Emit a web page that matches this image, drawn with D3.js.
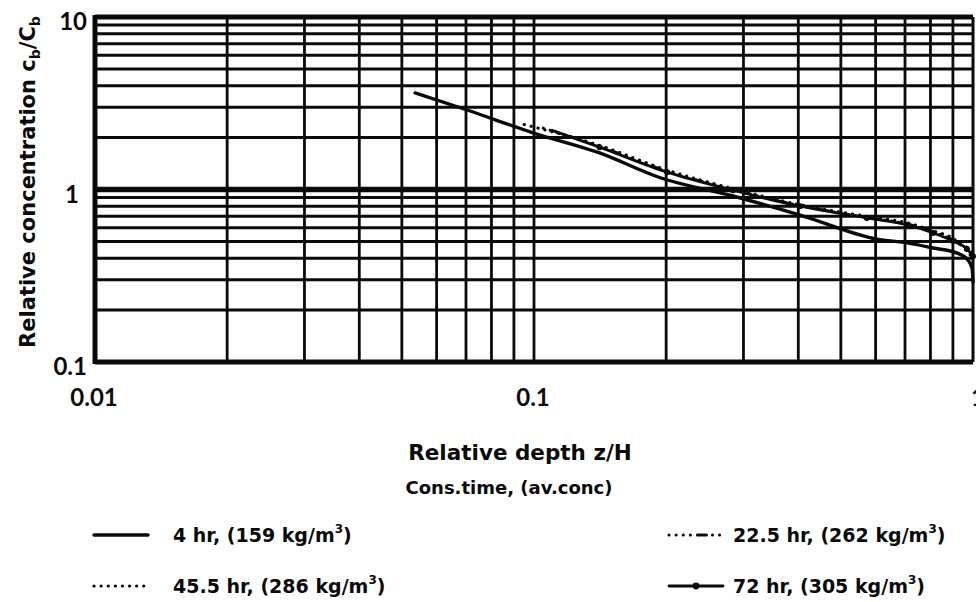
<!DOCTYPE html>
<html>
<head>
<meta charset="utf-8">
<script src="https://cdn.jsdelivr.net/npm/d3@7/dist/d3.min.js"></script>
<style>
  body { margin: 0; background: #fff; }
  svg { display: block; font-family: 'DejaVu Sans', sans-serif; font-weight: 700; }
  .tick-label { font-family: Lato, 'Noto Sans', sans-serif; }
</style>
</head>
<body>
<svg id="chart" width="976" height="602"></svg>
<script>
// relative depth z/H and relative concentration cb/Cb
const depth4 = [0.0536, 0.0704, 0.0995, 0.141, 0.194, 0.284, 0.404, 0.604, 0.708, 0.811, 0.920, 0.969, 0.995, 1.0]
const conc4 = [3.63, 2.89, 2.13, 1.63, 1.17, 0.917, 0.711, 0.516, 0.490, 0.458, 0.428, 0.396, 0.351, 0.291]

const depth22 = [0.105, 0.141, 0.2, 0.284, 0.4, 0.57, 0.71, 0.81, 0.9, 0.97, 1.0]
const conc22 = [2.27, 1.78, 1.28, 1.0, 0.81, 0.69, 0.63, 0.57, 0.51, 0.46, 0.42]

const depth45 = [0.095, 0.141, 0.2, 0.284, 0.4, 0.57, 0.71, 0.81, 0.9, 0.96, 1.0]
const conc45 = [2.38, 1.80, 1.30, 1.01, 0.82, 0.70, 0.64, 0.575, 0.52, 0.45, 0.40]

const depth72 = [0.11, 0.141, 0.201, 0.284, 0.404, 0.573, 0.711, 0.811, 0.9, 0.969, 1.0]
const conc72 = [2.2, 1.76, 1.26, 0.99, 0.80, 0.684, 0.623, 0.56, 0.503, 0.452, 0.41]

const hours = ['4', '22.5', '45.5', '72']
const avgConc = ['159', '262', '286', '305']

const xTicks = [0.01, 0.1, 1]
const xTickLabels = ['0.01', '0.1', '1']
const yTicks = [0.1, 1, 10]
const yTickLabels = ['0.1', '1', '10']

const series = [
  { depth: depth4, conc: conc4, dash: null, width: 3.4, dots: false },
  { depth: depth22, conc: conc22, dash: '0.1,7,0.1,7,0.1,7,0.1,7,9,6', width: 3, dots: false },
  { depth: depth45, conc: conc45, dash: '0.1,7', width: 3.2, dots: false },
  { depth: depth72, conc: conc72, dash: null, width: 2.8, dots: true }
]

const ink = '#0a0a0a'
const svg = d3.select('#chart')

svg.append('rect').attr('width', 976).attr('height', 602).attr('fill', '#fff')

const x = d3.scaleLog().domain([0.01, 1]).range([95, 973])
const y = d3.scaleLog().domain([0.1, 10]).range([362, 17])

// grid
const grid = svg.append('g').attr('stroke', ink)

grid.selectAll('line.v')
  .data(x.ticks().filter((d) => d > 0.01 && d < 1))
  .enter().append('line')
    .attr('class', 'v')
    .attr('x1', (d) => x(d)).attr('x2', (d) => x(d))
    .attr('y1', y(10)).attr('y2', y(0.1))
    .attr('stroke-width', 2.8)

grid.selectAll('line.h')
  .data(y.ticks().filter((d) => d > 0.1 && d < 10))
  .enter().append('line')
    .attr('class', 'h')
    .attr('x1', x(0.01)).attr('x2', x(1))
    .attr('y1', (d) => y(d)).attr('y2', (d) => y(d))
    .attr('stroke-width', (d) => d === 1 ? 5.5 : 3)

// frame
grid.append('line').attr('x1', x(0.01)).attr('x2', x(0.01)).attr('y1', y(10) - 2).attr('y2', y(0.1) + 2).attr('stroke-width', 5)
grid.append('line').attr('x1', x(0.01)).attr('x2', x(1)).attr('y1', y(10)).attr('y2', y(10)).attr('stroke-width', 5)
grid.append('line').attr('x1', x(0.01)).attr('x2', x(1)).attr('y1', y(0.1)).attr('y2', y(0.1)).attr('stroke-width', 5)
grid.append('line').attr('x1', x(1)).attr('x2', x(1)).attr('y1', y(10)).attr('y2', y(0.1)).attr('stroke-width', 3)

// curves
const line = d3.line()
  .x((d) => x(d[0]))
  .y((d) => y(d[1]))
  .curve(d3.curveMonotoneX)

series.forEach((s) => {
  const pts = s.depth.map((d, i) => [d, s.conc[i]])
  svg.append('path')
    .datum(pts)
    .attr('d', line)
    .attr('fill', 'none')
    .attr('stroke', ink)
    .attr('stroke-width', s.width)
    .attr('stroke-linecap', 'round')
    .attr('stroke-dasharray', s.dash)
  if (s.dots) {
    svg.append('g').selectAll('circle')
      .data(pts.slice(1))
      .enter().append('circle')
        .attr('cx', (d) => x(d[0]))
        .attr('cy', (d) => y(d[1]))
        .attr('r', 3)
        .attr('fill', ink)
  }
})

// tick labels
svg.append('g').selectAll('text')
  .data(yTicks)
  .enter().append('text')
    .attr('class', 'tick-label')
    .attr('x', (d) => d === 1 ? 79 : 87)
    .attr('y', (d) => y(d) + 13)
    .attr('text-anchor', 'end')
    .attr('font-size', 24)
    .attr('fill', ink)
    .text((d, i) => yTickLabels[i])

svg.append('g').selectAll('text')
  .data(xTicks)
  .enter().append('text')
    .attr('class', 'tick-label')
    .attr('x', (d) => x(d) + (d === 1 ? 5 : -1))
    .attr('y', 406)
    .attr('text-anchor', 'middle')
    .attr('font-size', 24)
    .attr('fill', ink)
    .text((d, i) => xTickLabels[i])

// axis titles
svg.append('text')
  .attr('x', 520).attr('y', 460)
  .attr('text-anchor', 'middle')
  .attr('font-size', 21.5)
  .attr('fill', ink)
  .text('Relative depth z/H')

svg.append('text')
  .attr('x', 509).attr('y', 494)
  .attr('text-anchor', 'middle')
  .attr('font-size', 18)
  .attr('fill', ink)
  .text('Cons.time, (av.conc)')

const yTitle = svg.append('text')
  .attr('transform', 'translate(35,182) rotate(-90)')
  .attr('text-anchor', 'middle')
  .attr('font-size', 21)
  .attr('fill', ink)
yTitle.append('tspan').text('Relative concentration c')
yTitle.append('tspan').attr('font-size', 14).attr('dy', 5).text('b')
yTitle.append('tspan').attr('dy', -5).text('/C')
yTitle.append('tspan').attr('font-size', 14).attr('dy', 5).text('b')

// legend
const legendPos = [[93, 535], [668, 535], [93, 586], [668, 586]]

series.forEach((s, i) => {
  const [lx, ly] = legendPos[i]
  const g = svg.append('g').attr('transform', `translate(${lx},${ly})`)
  g.append('line')
    .attr('x1', 1).attr('x2', 55)
    .attr('stroke', ink)
    .attr('stroke-width', s.width)
    .attr('stroke-linecap', 'round')
    .attr('stroke-dasharray', s.dash)
  if (s.dots) g.append('circle').attr('cx', 28).attr('r', 3.4).attr('fill', ink)
  const t = g.append('text')
    .attr('x', i % 2 ? 65 : 80)
    .attr('y', 7)
    .attr('font-size', 19)
    .attr('fill', ink)
  t.append('tspan').text(`${hours[i]} hr, (${avgConc[i]} kg/m`)
  t.append('tspan').attr('font-size', 12).attr('dy', -9).text('3')
  t.append('tspan').attr('dy', 9).text(')')
})
</script>
</body>
</html>
